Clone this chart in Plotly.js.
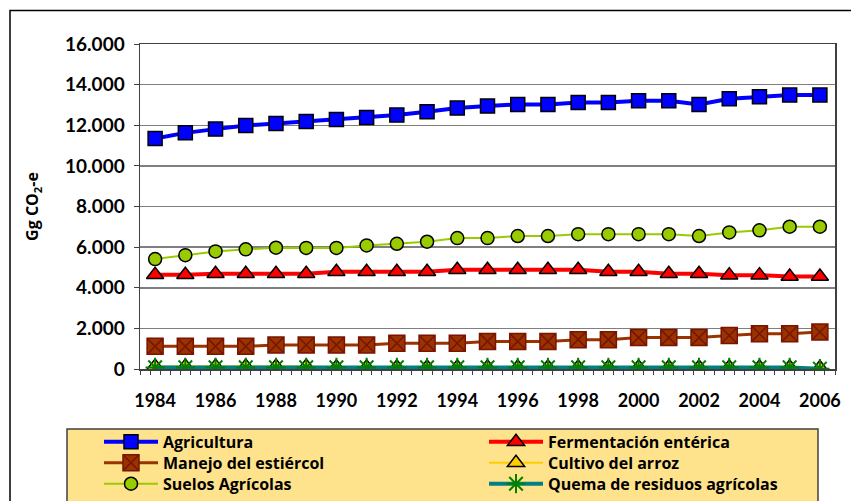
<!DOCTYPE html>
<html>
<head>
<meta charset="utf-8">
<script src="https://cdn.plot.ly/plotly-3.0.1.min.js"></script>
<style>html,body{margin:0;padding:0;background:#fff;}#chart{width:851px;height:501px;}</style>
</head>
<body>
<div id="chart"></div>
<script>
const years = [1984,1985,1986,1987,1988,1989,1990,1991,1992,1993,1994,1995,1996,1997,1998,1999,2000,2001,2002,2003,2004,2005,2006];
const agricultura = [11350,11625,11810,11990,12090,12190,12285,12385,12500,12660,12845,12945,13025,13025,13125,13125,13205,13205,13025,13305,13400,13485,13485];
const fermentacion = [4640,4640,4690,4690,4690,4690,4790,4790,4790,4790,4885,4885,4885,4885,4885,4790,4790,4690,4690,4620,4620,4555,4555];
const manejo = [1115,1115,1115,1115,1185,1185,1185,1185,1265,1265,1265,1360,1360,1360,1445,1445,1545,1545,1545,1645,1740,1740,1825];
const arroz = [130,130,130,130,130,130,90,90,90,90,90,90,90,90,90,90,90,90,90,90,90,90,60];
const suelos = [5410,5605,5790,5890,5970,5960,5960,6085,6165,6265,6445,6445,6545,6545,6640,6640,6640,6640,6545,6725,6825,7005,7005];
const quema = [80,80,80,80,80,80,80,80,80,80,80,80,80,80,80,80,80,80,80,80,80,80,15];
const names = ["Agricultura","Fermentación entérica","Manejo del estiércol","Cultivo del arroz","Suelos Agrícolas","Quema de residuos agrícolas"];
const xTickVals = [1984,1986,1988,1990,1992,1994,1996,1998,2000,2002,2004,2006];
const yTickVals = [0,2000,4000,6000,8000,10000,12000,14000,16000];

const L = 140, R = 835, T = 43.5, B = 369;
const W = R - L, H = B - T;
const px = v => (v - L) / W;
const py = v => (B - v) / H;

const traces = [
  {x: years, y: agricultura, name: names[0], mode: 'lines+markers', legend: 'legend',
   line: {color: '#0000FF', width: 4},
   marker: {symbol: 'square', size: 14, color: '#0000FF', line: {color: '#000000', width: 1.5}}},
  {x: years, y: fermentacion, name: names[1], mode: 'lines+markers', legend: 'legend',
   line: {color: '#FF0000', width: 4},
   marker: {symbol: 'triangle-up', size: 15, color: '#FF0000', line: {color: '#000000', width: 1.5}}},
  {x: years, y: manejo, name: names[2], mode: 'lines+markers', legend: 'legend2',
   line: {color: '#993300', width: 3},
   marker: {symbol: 'square-x', size: 16, color: '#993300', line: {color: '#7A1400', width: 1.5}}},
  {x: years, y: arroz, name: names[3], mode: 'lines+markers', legend: 'legend2',
   line: {color: '#FFCC00', width: 2},
   marker: {symbol: 'triangle-up', size: 15, color: '#FFCC00', line: {color: '#000000', width: 1.5}}},
  {x: years, y: suelos, name: names[4], mode: 'lines+markers', legend: 'legend3',
   line: {color: '#99CC00', width: 2},
   marker: {symbol: 'circle', size: 13, color: '#99CC00', line: {color: '#000000', width: 1.5}}},
  {x: years, y: quema, name: names[5], mode: 'lines+markers', legend: 'legend3',
   line: {color: '#008080', width: 4},
   marker: {symbol: 'asterisk-open', size: 16, color: '#008000', line: {color: '#008000', width: 2}}}
];

const legendBase = (rowY) => ({
  orientation: 'h', x: px(99), xanchor: 'left', y: py(rowY), yanchor: 'middle',
  bgcolor: 'rgba(0,0,0,0)', borderwidth: 0,
  entrywidth: 316, entrywidthmode: 'pixels',
  font: {family: '"Open Sans", Lato, sans-serif', size: 16, weight: 'bold', color: '#000000'},
  traceorder: 'normal', itemwidth: 54
});

const layout = {
  width: 851, height: 501,
  margin: {l: L, r: 851 - R, t: T, b: 501 - B, pad: 0, autoexpand: false},
  paper_bgcolor: '#FFFFFF', plot_bgcolor: '#FFFFFF',
  separators: ',.',
  showlegend: true,
  font: {family: 'Lato, "DejaVu Sans", sans-serif', color: '#000000'},
  xaxis: {
    type: 'linear', range: [1983.5, 2006.5],
    tickvals: xTickVals, ticktext: xTickVals.map(String),
    ticks: '', showgrid: false, zeroline: false,
    showline: true, linecolor: '#404040', linewidth: 1.5, mirror: true,
    tickfont: {family: 'Lato, sans-serif', size: 18, weight: 'bold', color: '#000000'},
    ticklabelstandoff: 15,
    minor: {ticks: 'outside', tick0: 1983.5, dtick: 1/3, ticklen: 4, tickcolor: '#404040', tickwidth: 1, showgrid: false}
  },
  yaxis: {
    range: [0, 16000], tickvals: yTickVals, tickformat: ',d',
    ticks: 'outside', ticklen: 5, tickcolor: '#404040',
    showgrid: true, gridcolor: '#7F7F7F', gridwidth: 1.5, zeroline: false,
    showline: true, linecolor: '#404040', linewidth: 1.5, mirror: true,
    tickfont: {family: 'Lato, sans-serif', size: 19, weight: 'bold', color: '#000000'},
    ticklabelstandoff: 5,
    title: {text: 'Gg CO<sub>2</sub>-e', standoff: 22,
            font: {family: '"Open Sans", Lato, sans-serif', size: 16, weight: 'bold', color: '#000000'}}
  },
  legend: legendBase(442),
  legend2: legendBase(463),
  legend3: legendBase(484),
  shapes: [
    {type: 'rect', xref: 'paper', yref: 'paper', layer: 'below',
     x0: px(10), x1: px(870), y0: py(10), y1: py(520),
     line: {color: '#000000', width: 1.5}, fillcolor: 'rgba(0,0,0,0)'},
    {type: 'rect', xref: 'paper', yref: 'paper', layer: 'below',
     x0: px(67), x1: px(818), y0: py(429), y1: py(520),
     line: {color: '#404040', width: 1.5}, fillcolor: '#FFE38C'}
  ]
};

Plotly.newPlot('chart', traces, layout, {displayModeBar: false, staticPlot: true});
</script>
</body>
</html>
